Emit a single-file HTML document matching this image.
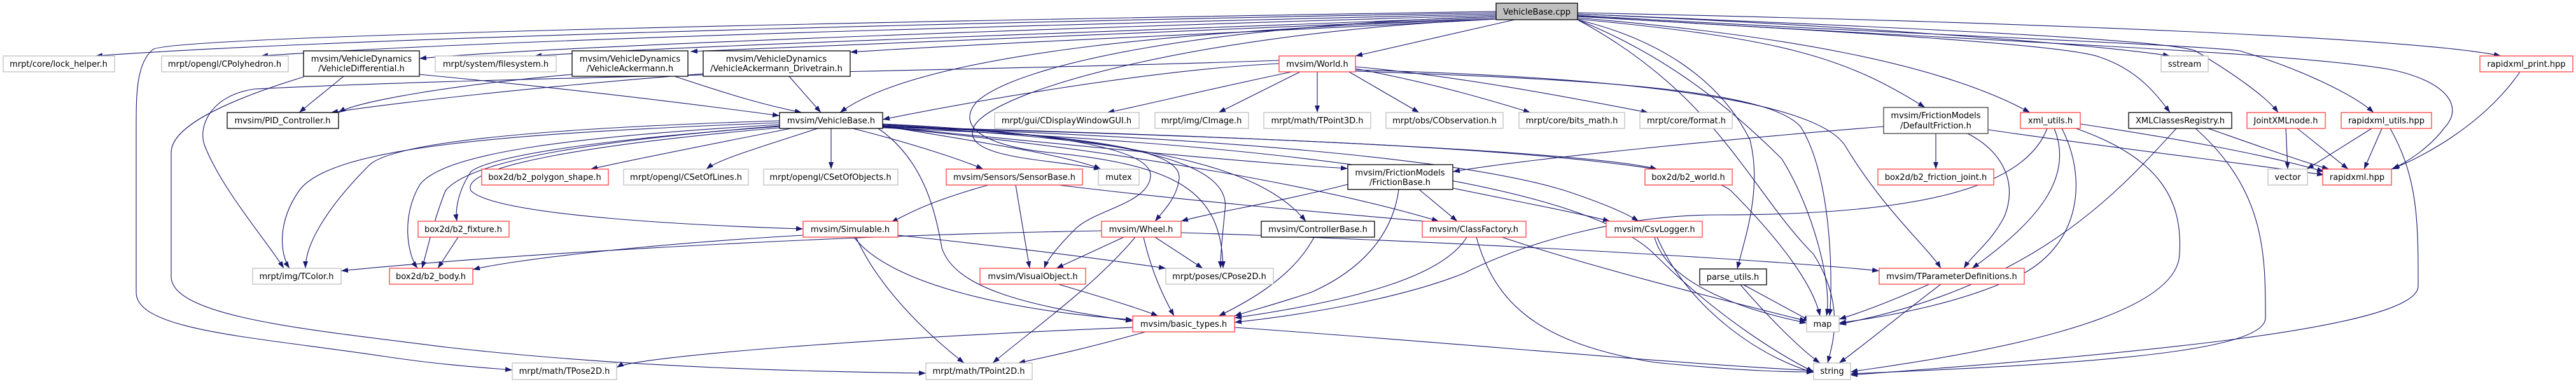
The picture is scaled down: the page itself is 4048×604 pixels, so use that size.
<!DOCTYPE html>
<html><head><meta charset="utf-8"><style>
html,body{margin:0;padding:0;background:#fff;}
svg{display:block;}
text{font-family:"DejaVu Sans","Liberation Sans",sans-serif;font-size:13px;fill:#000;}
.e{fill:none;stroke:#191970;stroke-width:1.1;marker-end:url(#a);}
.g{fill:#fff;stroke:#bfbfbf;stroke-width:1.3;}
.r{fill:#fff;stroke:#ff4040;stroke-width:1.3;}
.k{fill:#fff;stroke:#000;stroke-width:1.3;}
</style></head><body>
<svg width="4048" height="604" viewBox="0 0 4048 604" xmlns="http://www.w3.org/2000/svg">
<defs><marker id="a" markerUnits="userSpaceOnUse" markerWidth="12" markerHeight="10" refX="11" refY="4" orient="auto"><path d="M0,0 L11,4 L0,8 z" fill="#191970"/></marker></defs>
<g>
<path class="e" d="M2351,20 C1800,30 600,55 150,88"/>
<path class="e" d="M2351,22 C1800,35 800,60 410,88"/>
<path class="e" d="M2351,24 C1800,40 900,70 659,92"/>
<path class="e" d="M2351,26 C1900,45 1100,70 840,88"/>
<path class="e" d="M2351,28 C2000,45 1300,70 1085,81"/>
<path class="e" d="M2351,30 C2100,45 1600,65 1336,82"/>
<path class="e" d="M2351,30 C1900,45 1450,80 1320,177"/>
<path class="e" d="M2380,31 L2130,88"/>
<path class="e" d="M2351,18 C1000,40 260,60 240,78 C214,100 214,150 214,200 L214,460 C214,520 400,530 600,560 C700,575 760,578 805,582"/>
<path class="e" d="M2479,20 C3200,35 3800,60 3930,88"/>
<path class="e" d="M2479,22 C2900,40 3300,70 3410,88"/>
<path class="e" d="M2479,25 C3000,60 3600,80 3760,110 C3850,130 3870,170 3842,200 C3820,230 3790,250 3760,266"/>
<path class="e" d="M2479,24 C2900,50 3450,70 3520,80 C3620,110 3700,150 3730,177"/>
<path class="e" d="M2479,22 C2900,40 3400,60 3450,80 C3500,110 3560,150 3580,177"/>
<path class="e" d="M2479,26 C2900,50 3250,70 3300,90 C3360,110 3390,150 3410,177"/>
<path class="e" d="M2479,28 C2800,55 3050,100 3190,177"/>
<path class="e" d="M2479,30 C2800,60 2900,90 3025,169"/>
<path class="e" d="M2479,31 C2600,60 2700,120 2750,220 C2770,300 2740,380 2730,423"/>
<path class="e" d="M2479,31 C2600,80 2700,150 2800,250 C2850,330 2880,450 2870,497"/>
<path class="e" d="M2479,31 C2700,150 2750,300 2850,400 C2900,480 2880,540 2872,571"/>
<path class="e" d="M2351,26 C1900,40 1600,100 1535,160 C1500,200 1550,230 1650,240 C1850,260 1920,300 1922,422"/>
<path class="e" d="M2351,30 C1900,50 1560,140 1530,200 C1510,250 1650,250 1730,266"/>
<path class="e" d="M540,120 L470,177"/>
<path class="e" d="M659,117 C900,140 1100,165 1225,182"/>
<path class="e" d="M477,121 C350,160 269,200 269,240 L269,435 C269,500 500,520 700,546 C1000,580 1300,585 1455,587"/>
<path class="e" d="M899,117 C700,135 560,160 532,177"/>
<path class="e" d="M1060,120 C1150,150 1200,165 1260,177"/>
<path class="e" d="M1105,116 C800,140 600,165 520,177"/>
<path class="e" d="M1240,120 L1290,177"/>
<path class="e" d="M2010,100 C1800,110 1500,165 1387,188"/>
<path class="e" d="M2030,113 C1900,140 1800,165 1740,177"/>
<path class="e" d="M2043,113 L1915,177"/>
<path class="e" d="M2070,113 L2070,177"/>
<path class="e" d="M2120,113 L2230,177"/>
<path class="e" d="M2130,108 C2250,130 2350,160 2405,177"/>
<path class="e" d="M2130,105 C2300,120 2500,160 2590,177"/>
<path class="e" d="M2130,112 C2500,125 2780,140 2830,200 C2880,280 2880,450 2875,497"/>
<path class="e" d="M2130,110 C2500,120 2850,150 2900,230 C2960,330 3030,390 3050,422"/>
<path class="e" d="M2010,95 C1600,110 800,120 400,140 C330,150 310,200 322,230 C350,300 420,380 446,422"/>
<path class="e" d="M1243,202 C1100,230 1000,250 928,266"/>
<path class="e" d="M1285,202 C1200,230 1130,250 1110,266"/>
<path class="e" d="M1306,202 L1306,266"/>
<path class="e" d="M1340,202 C1450,230 1520,255 1545,266"/>
<path class="e" d="M1387,198 C1550,225 1680,245 1730,266"/>
<path class="e" d="M1387,195 C1700,210 1810,240 1808,277 C1805,320 1720,330 1690,360 C1660,390 1645,410 1641,422"/>
<path class="e" d="M1387,196 C1750,215 1855,240 1853,280 C1850,310 1830,330 1815,348"/>
<path class="e" d="M1387,197 C1800,215 1935,260 1925,330 C1920,380 1918,400 1918,422"/>
<path class="e" d="M1387,198 C1800,220 1980,260 2052,348"/>
<path class="e" d="M1387,199 C1700,230 1950,255 2118,265"/>
<path class="e" d="M1387,200 C1800,240 2100,300 2261,348"/>
<path class="e" d="M1387,200 C1900,215 2300,250 2460,300 C2520,320 2555,335 2575,348"/>
<path class="e" d="M1387,199 C2000,215 2500,240 2604,266"/>
<path class="e" d="M1380,202 C1450,250 1470,330 1480,390 C1500,450 1600,480 1780,505"/>
<path class="e" d="M1387,200 C2000,215 2650,240 2720,300 C2800,380 2850,450 2860,497"/>
<path class="e" d="M1387,201 C2100,230 2500,300 2600,400 C2700,500 2800,560 2850,585"/>
<path class="e" d="M1225,190 C900,200 620,220 580,260 C520,320 480,380 480,422"/>
<path class="e" d="M1225,193 C800,210 520,230 470,300 C435,350 440,400 455,422"/>
<path class="e" d="M1225,196 C900,215 700,240 660,290 C630,340 640,400 656,422"/>
<path class="e" d="M1225,198 C950,220 740,250 700,300 C680,350 670,400 663,422"/>
<path class="e" d="M1225,199 C1000,215 780,240 740,270 C720,300 715,330 718,348"/>
<path class="e" d="M1225,201 C950,225 720,260 740,300 C780,340 1100,355 1262,360"/>
<path class="e" d="M3217,202 C3180,300 3000,338 2700,338 C2550,338 2400,380 2300,430 C2200,470 2050,495 1940,507"/>
<path class="e" d="M3228,202 C3260,280 3200,350 3099,422"/>
<path class="e" d="M3240,202 C3280,280 3270,380 3180,430 C3080,480 2950,500 2890,508"/>
<path class="e" d="M3262,202 C3400,250 3430,320 3425,400 C3420,520 3000,570 2908,585"/>
<path class="e" d="M3269,195 C3400,215 3550,240 3652,270"/>
<path class="e" d="M2960,199 C2700,220 2400,250 2283,270"/>
<path class="e" d="M3042,210 L3042,266"/>
<path class="e" d="M3092,210 C3150,240 3170,290 3150,340 C3130,380 3100,400 3086,422"/>
<path class="e" d="M3124,204 C3300,230 3550,260 3652,275"/>
<path class="e" d="M3420,202 C3330,300 3200,450 2890,510"/>
<path class="e" d="M3450,202 C3560,300 3560,400 3560,500 C3560,560 3200,575 2908,588"/>
<path class="e" d="M3470,202 C3550,230 3620,255 3660,266"/>
<path class="e" d="M3592,202 L3595,266"/>
<path class="e" d="M3610,202 L3690,266"/>
<path class="e" d="M3727,202 L3625,266"/>
<path class="e" d="M3743,202 L3715,266"/>
<path class="e" d="M3756,202 C3800,280 3800,350 3800,450 C3800,520 3300,560 2908,590"/>
<path class="e" d="M3960,113 C3900,200 3800,250 3758,266"/>
<path class="e" d="M1553,291 C1450,320 1420,340 1400,350"/>
<path class="e" d="M1596,291 L1618,422"/>
<path class="e" d="M1663,291 C1900,320 2150,340 2261,350"/>
<path class="e" d="M1262,370 C1000,385 800,410 743,424"/>
<path class="e" d="M1411,370 C1600,390 1750,410 1832,422"/>
<path class="e" d="M1342,373 C1400,450 1600,490 1780,503"/>
<path class="e" d="M1345,373 C1380,450 1450,520 1515,571"/>
<path class="e" d="M720,373 L688,422"/>
<path class="e" d="M1766,373 L1660,422"/>
<path class="e" d="M1815,373 L1890,422"/>
<path class="e" d="M1797,373 C1810,430 1830,470 1845,497"/>
<path class="e" d="M1784,373 C1720,450 1620,520 1560,571"/>
<path class="e" d="M1731,363 C1300,370 800,400 536,426"/>
<path class="e" d="M1856,366 C2300,380 2800,410 2953,426"/>
<path class="e" d="M2065,373 C2030,440 1950,480 1915,497"/>
<path class="e" d="M2118,290 C2000,320 1900,335 1856,348"/>
<path class="e" d="M2230,298 L2290,348"/>
<path class="e" d="M2283,296 C2400,320 2480,335 2530,348"/>
<path class="e" d="M2198,298 C2190,360 2150,420 2060,460 C2000,480 1960,490 1940,497"/>
<path class="e" d="M2305,373 C2270,430 2150,470 1940,500"/>
<path class="e" d="M2320,373 C2350,480 2420,540 2600,570 C2750,585 2820,585 2850,585"/>
<path class="e" d="M2360,373 C2500,420 2700,470 2839,505"/>
<path class="e" d="M2600,373 C2620,450 2750,490 2839,508"/>
<path class="e" d="M2604,373 C2650,480 2760,560 2850,586"/>
<path class="e" d="M2740,448 L2845,505"/>
<path class="e" d="M2735,448 C2780,500 2830,550 2860,571"/>
<path class="e" d="M3032,447 C2980,470 2930,490 2890,502"/>
<path class="e" d="M3050,447 C2980,500 2920,550 2890,571"/>
<path class="e" d="M1663,447 C1740,470 1790,485 1820,497"/>
<path class="e" d="M1780,515 C1400,530 1000,560 969,578"/>
<path class="e" d="M1800,522 C1700,550 1650,560 1600,571"/>
<path class="e" d="M1940,515 C2300,540 2600,570 2850,583"/>
</g>
<g>
<rect x="2351" y="5" width="128" height="26" fill="#bfbfbf" stroke="#000" stroke-width="1.3"/><text x="2415" y="23" text-anchor="middle">VehicleBase.cpp</text>
<rect class="g" x="5" y="88" width="175" height="25"/><text x="92" y="105" text-anchor="middle">mrpt/core/lock_helper.h</text>
<rect class="g" x="254" y="88" width="199" height="25"/><text x="353" y="105" text-anchor="middle">mrpt/opengl/CPolyhedron.h</text>
<rect class="k" x="477" y="80" width="182" height="40"/><text x="568" y="97" text-anchor="middle">mvsim/VehicleDynamics</text><text x="568" y="112" text-anchor="middle">/VehicleDifferential.h</text>
<rect class="g" x="684" y="88" width="190" height="25"/><text x="779" y="105" text-anchor="middle">mrpt/system/filesystem.h</text>
<rect class="k" x="899" y="80" width="182" height="40"/><text x="990" y="97" text-anchor="middle">mvsim/VehicleDynamics</text><text x="990" y="112" text-anchor="middle">/VehicleAckermann.h</text>
<rect class="k" x="1105" y="80" width="231" height="40"/><text x="1220" y="97" text-anchor="middle">mvsim/VehicleDynamics</text><text x="1220" y="112" text-anchor="middle">/VehicleAckermann_Drivetrain.h</text>
<rect class="r" x="2010" y="88" width="120" height="25"/><text x="2070" y="105" text-anchor="middle">mvsim/World.h</text>
<rect class="g" x="3396" y="88" width="74" height="25"/><text x="3433" y="105" text-anchor="middle">sstream</text>
<rect class="r" x="3897" y="88" width="146" height="25"/><text x="3970" y="105" text-anchor="middle">rapidxml_print.hpp</text>
<rect class="k" x="357" y="177" width="175" height="25"/><text x="444" y="194" text-anchor="middle">mvsim/PID_Controller.h</text>
<rect class="k" x="1225" y="177" width="162" height="25"/><text x="1306" y="194" text-anchor="middle">mvsim/VehicleBase.h</text>
<rect class="g" x="1563" y="177" width="227" height="25"/><text x="1676" y="194" text-anchor="middle">mrpt/gui/CDisplayWindowGUI.h</text>
<rect class="g" x="1815" y="177" width="147" height="25"/><text x="1888" y="194" text-anchor="middle">mrpt/img/CImage.h</text>
<rect class="g" x="1986" y="177" width="168" height="25"/><text x="2070" y="194" text-anchor="middle">mrpt/math/TPoint3D.h</text>
<rect class="g" x="2178" y="177" width="184" height="25"/><text x="2270" y="194" text-anchor="middle">mrpt/obs/CObservation.h</text>
<rect class="g" x="2387" y="177" width="166" height="25"/><text x="2470" y="194" text-anchor="middle">mrpt/core/bits_math.h</text>
<rect class="g" x="2577" y="177" width="145" height="25"/><text x="2650" y="194" text-anchor="middle">mrpt/core/format.h</text>
<rect x="2960" y="169" width="164" height="41" fill="#fff" stroke="#404040" stroke-width="1.3"/><text x="3042" y="186" text-anchor="middle">mvsim/FrictionModels</text><text x="3042" y="202" text-anchor="middle">/DefaultFriction.h</text>
<rect class="r" x="3175" y="177" width="94" height="25"/><text x="3222" y="194" text-anchor="middle">xml_utils.h</text>
<rect class="k" x="3345" y="177" width="162" height="25"/><text x="3426" y="194" text-anchor="middle">XMLClassesRegistry.h</text>
<rect class="r" x="3531" y="177" width="123" height="25"/><text x="3592" y="194" text-anchor="middle">JointXMLnode.h</text>
<rect class="r" x="3679" y="177" width="142" height="25"/><text x="3750" y="194" text-anchor="middle">rapidxml_utils.hpp</text>
<rect class="r" x="757" y="266" width="199" height="25"/><text x="856" y="283" text-anchor="middle">box2d/b2_polygon_shape.h</text>
<rect class="g" x="980" y="266" width="196" height="25"/><text x="1078" y="283" text-anchor="middle">mrpt/opengl/CSetOfLines.h</text>
<rect class="g" x="1200" y="266" width="211" height="25"/><text x="1305" y="283" text-anchor="middle">mrpt/opengl/CSetOfObjects.h</text>
<rect class="r" x="1487" y="266" width="214" height="25"/><text x="1594" y="283" text-anchor="middle">mvsim/Sensors/SensorBase.h</text>
<rect class="g" x="1726" y="266" width="64" height="25"/><text x="1758" y="283" text-anchor="middle">mutex</text>
<rect class="k" x="2118" y="259" width="165" height="39"/><text x="2200" y="276" text-anchor="middle">mvsim/FrictionModels</text><text x="2200" y="291" text-anchor="middle">/FrictionBase.h</text>
<rect class="r" x="2585" y="266" width="137" height="25"/><text x="2653" y="283" text-anchor="middle">box2d/b2_world.h</text>
<rect class="r" x="2951" y="266" width="182" height="25"/><text x="3042" y="283" text-anchor="middle">box2d/b2_friction_joint.h</text>
<rect class="g" x="3564" y="266" width="62" height="25"/><text x="3595" y="283" text-anchor="middle">vector</text>
<rect class="r" x="3650" y="266" width="108" height="25"/><text x="3704" y="283" text-anchor="middle">rapidxml.hpp</text>
<rect class="r" x="657" y="348" width="143" height="25"/><text x="728" y="365" text-anchor="middle">box2d/b2_fixture.h</text>
<rect class="r" x="1262" y="348" width="149" height="25"/><text x="1336" y="365" text-anchor="middle">mvsim/Simulable.h</text>
<rect class="r" x="1731" y="348" width="125" height="25"/><text x="1793" y="365" text-anchor="middle">mvsim/Wheel.h</text>
<rect class="k" x="1982" y="348" width="178" height="25"/><text x="2071" y="365" text-anchor="middle">mvsim/ControllerBase.h</text>
<rect class="r" x="2235" y="348" width="163" height="25"/><text x="2316" y="365" text-anchor="middle">mvsim/ClassFactory.h</text>
<rect class="r" x="2524" y="348" width="151" height="25"/><text x="2600" y="365" text-anchor="middle">mvsim/CsvLogger.h</text>
<rect class="g" x="397" y="422" width="139" height="25"/><text x="466" y="439" text-anchor="middle">mrpt/img/TColor.h</text>
<rect class="r" x="612" y="422" width="131" height="25"/><text x="677" y="439" text-anchor="middle">box2d/b2_body.h</text>
<rect class="r" x="1540" y="422" width="166" height="25"/><text x="1623" y="439" text-anchor="middle">mvsim/VisualObject.h</text>
<rect class="g" x="1832" y="422" width="169" height="25"/><text x="1916" y="439" text-anchor="middle">mrpt/poses/CPose2D.h</text>
<rect class="r" x="2953" y="422" width="228" height="25"/><text x="3067" y="439" text-anchor="middle">mvsim/TParameterDefinitions.h</text>
<rect class="k" x="2671" y="423" width="105" height="25"/><text x="2723" y="440" text-anchor="middle">parse_utils.h</text>
<rect class="r" x="1780" y="497" width="160" height="25"/><text x="1860" y="514" text-anchor="middle">mvsim/basic_types.h</text>
<rect class="g" x="2839" y="497" width="51" height="25"/><text x="2864" y="514" text-anchor="middle">map</text>
<rect class="g" x="805" y="571" width="164" height="26"/><text x="887" y="588" text-anchor="middle">mrpt/math/TPose2D.h</text>
<rect class="g" x="1455" y="571" width="167" height="26"/><text x="1538" y="588" text-anchor="middle">mrpt/math/TPoint2D.h</text>
<rect class="g" x="2850" y="571" width="58" height="26"/><text x="2879" y="588" text-anchor="middle">string</text>
</g>
</svg>
</body></html>
